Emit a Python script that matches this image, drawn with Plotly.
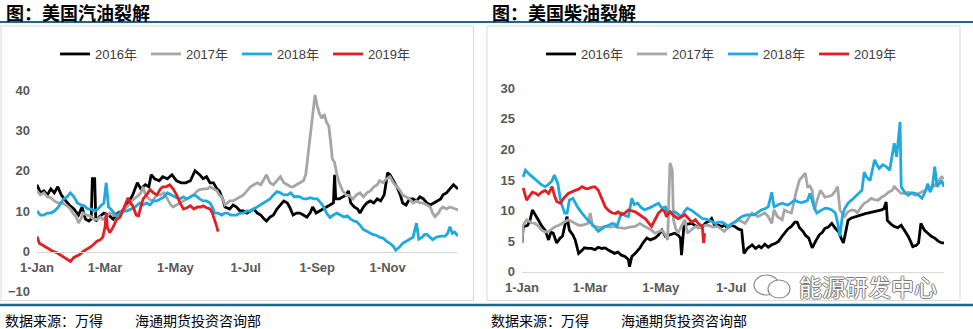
import pandas as pd
import plotly.graph_objects as go

W, H = 973, 329
BASE = pd.Timestamp("2017-01-01")   # common calendar axis for every year

YEARS = ["2016年", "2017年", "2018年", "2019年"]
COLORS = ["#000000", "#A6A6A6", "#1EAADC", "#E31E24"]

TICK_DAYS = [0, 59, 120, 181, 243, 304]
TICK_LABELS = ["1-Jan", "1-Mar", "1-May", "1-Jul", "1-Sep", "1-Nov"]
DSL_TICK_COUNT = 4          # later month labels sit under the account mark

GAS_TICKS = [-10, 0, 10, 20, 30, 40]
DSL_TICKS = [0, 5, 10, 15, 20, 25, 30]

# US gasoline crack spread, (day of year, USD/bbl)
GAS_2016 = [(0,16.5),(3,14.5),(6,15),(9,14),(12,15.5),(15,14.5),(18,16),(21,14),(25,12.5),(28,11.5),
            (32,10.5),(36,9),(39,11),(42,8),(45,7.5),(47,8),(48,18),(50,18),(51,7.5),(54,8.5),(58,9.5),
            (62,9),(66,8),(70,9.5),(74,10),(77,11),(80,12.5),(83,14),(87,17),(90,15.5),(94,16.5),(97,16),
            (99,19),(102,18),(106,17.5),(109,18.5),(113,18),(117,19),(121,17.5),(125,17),(129,17),(133,17.5),
            (137,20),(141,19),(144,18),(147,18.5),(150,17),(153,17),(156,15.5),(158,15),(161,13),(163,11),
            (167,10.5),(170,11.5),(173,11),(176,10),(179,10),(182,9.5),(185,10),(188,10.5),(191,9.5),(194,9),
            (197,8),(199,7.5),(202,8.5),(205,9),(208,10.5),(211,11.5),(214,12.5),(217,12),(219,11),(222,9),
            (225,9.5),(228,9.5),(231,9),(234,8.5),(237,9.6),(239,11),(242,9.5),(245,10),(248,10.5),(251,11),
            (254,11.5),(257,12),(258,19),(259,13),(262,13),(265,13.5),(268,14),(270,15),(272,12),(275,11),
            (278,10.5),(280,9.5),(283,11),(286,12),(289,12.5),(292,12),(295,13),(298,12.5),(301,14),(304,19.5),
            (306,19),(309,17.5),(312,16),(315,14),(317,12),(320,11.5),(323,13),(326,13),(329,12.5),(332,13.5),
            (335,13),(338,12),(341,11.5),(344,12),(347,12.5),(350,13),(352,14),(355,14.5),(358,15.5),(361,16.5),
            (363,16),(365,15.5)]
GAS_2017 = [(0,15),(3,14),(6,14.5),(9,13.5),(12,13.3),(15,12.5),(18,12),(22,12),(26,11.3),(29,10.5),
            (31,9.5),(34,8.5),(36,7),(38,8),(40,9.5),(43,9),(46,8.8),(49,8),(52,7.9),(55,8.5),(57,7.9),
            (60,8.5),(63,9.5),(66,9),(69,8.8),(72,9.5),(75,10.5),(78,11),(81,12),(84,13),(87,13.6),(90,14.5),
            (92,16),(94,14),(97,13),(100,12.5),(104,14),(107,14),(110,14.5),(113,13),(116,11.5),(118,11),
            (121,11.5),(124,12),(127,12.5),(130,13),(133,13.6),(136,14),(139,15),(141,15.3),(145,15.5),
            (148,15.5),(150,16),(153,15.5),(156,15),(158,14),(160,13.6),(163,11.5),(165,12),(167,12.5),
            (170,12.5),(173,13),(176,13.6),(179,14),(182,15),(185,16),(188,16.5),(191,17),(194,16.5),(197,18),
            (199,19),(202,17),(205,16.5),(208,17.5),(211,18.5),(214,17),(217,16.5),(220,16),(222,16),
            (225,16.5),(228,17),(231,17.5),(233,19),(235,24),(237,29),(239,35),(241,38.8),(243,36),(245,34),
            (247,33),(249,34),(251,32),(253,31),(255,26),(256,23),(258,22),(260,19),(262,17),(265,15),(268,14),
            (271,13.8),(274,13),(277,14),(280,14.5),(283,13.5),(286,14.5),(289,15),(292,16),(295,16.5),
            (297,17.5),(300,17),(303,18),(306,18.5),(309,17),(312,16),(315,15),(317,14),(320,13.5),(323,13),
            (326,12),(329,12.5),(332,12),(335,12),(338,11.5),(341,11),(343,9.5),(345,8.6),(348,9.5),(350,10.5),
            (352,11),(355,10.5),(358,11),(361,10.8),(363,10.5),(365,10.3)]
GAS_2018 = [(0,10),(3,9),(6,9),(9,9.5),(12,9.5),(15,10),(18,10.8),(21,12),(23,13),(26,13.5),(29,14.5),
            (32,13.5),(35,12),(38,11.5),(41,11.3),(44,10.5),(47,10.5),(50,10),(53,10.5),(56,11.5),(58,12),
            (60,17),(62,11),(64,10.5),(67,9.5),(69,8.8),(72,9.5),(75,10),(78,10),(81,10.5),(85,11),(89,12),
            (92,11.5),(95,12),(98,11.5),(101,12.5),(104,12.5),(107,13),(110,13.5),(113,14.5),(116,14),
            (119,13.5),(121,13.3),(124,13),(127,13.5),(130,13),(133,13.6),(136,14),(139,13.5),(141,13),
            (144,12.5),(147,12.5),(150,12),(152,11),(154,9.5),(157,9.5),(160,9),(163,9.5),(165,9.5),(168,9),
            (171,9),(173,9),(176,9.5),(179,9.5),(182,10),(185,10),(188,10.5),(191,11),(193,11.3),(196,12),
            (199,12.5),(202,13),(205,14),(208,14.8),(211,14.5),(214,14),(217,14),(220,14.5),(223,13.5),
            (225,13.6),(228,13.5),(231,13),(234,13),(237,13.3),(240,13),(243,13),(246,12),(248,11.3),(251,9.5),
            (254,8.4),(257,9),(260,9.5),(263,9),(266,8.5),(269,8.8),(272,8),(275,7.5),(277,7.4),(280,6.5),
            (283,5.4),(286,5),(289,4.5),(291,4.2),(294,4),(297,3.5),(300,3.3),(303,2.5),(306,2),(309,1.2),
            (311,0.3),(314,1),(317,2),(320,2.5),(323,2.9),(326,3.5),(329,7),(331,3),(334,3.5),(336,4.2),
            (338,4.2),(341,3.5),(343,2.9),(346,3.5),(350,3.8),(354,3.8),(356,4.5),(358,6.1),(360,4.5),
            (362,4.8),(365,3.8)]
GAS_2019 = [(0,3.7),(2,2),(5,1.5),(8,1),(11,0.4),(14,0),(17,-0.3),(20,-0.8),(23,-1.3),(26,-1.8),(29,-2.5),
            (32,-1.5),(35,-1),(37,-0.8),(40,0),(43,0.4),(46,1),(49,1.7),(52,2.5),(55,2.9),(57,3.5),(59,6),
            (60,9.5),(61,6),(63,4.6),(66,6),(69,7.9),(72,8.5),(75,10.4),(77,12),(79,13.3),(81,12),(83,11.3),
            (86,9),(88,8.8),(90,11),(92,13),(95,14),(98,15.3),(101,14.5),(104,14),(107,15.5),(109,16),(112,16),
            (115,16.5),(118,15.5),(121,14),(124,12),(127,10.5),(130,10.8),(133,11.3),(136,10.5),(139,11),
            (142,11),(144,11.3),(147,10.8),(150,10.5),(152,9.5),(154,7.9),(156,6),(157,4.9)]

# US diesel crack spread, (day of year, USD/bbl)
DSL_2016 = [(0,4.7),(1,7.3),(5,7.6),(7,8.5),(9,10.1),(12,9),(14,8.5),(17,7.5),(20,6.8),(23,5.2),(25,6.5),
            (27,6.3),(30,4.7),(33,5.5),(35,5.8),(37,7.5),(39,9),(41,6.8),(44,6),(46,5.2),(49,3),(52,3.5),
            (54,3.9),(57,3.8),(60,3.8),(63,3.6),(66,4),(69,3.8),(72,3.9),(75,3.5),(78,3.2),(80,3),(83,3.2),
            (86,2.7),(89,2.5),(92,2),(93,0.8),(95,2.5),(98,3),(102,3.9),(105,4.8),(108,5.5),(111,5.2),(115,5.5),
            (118,6),(121,6.8),(124,5.8),(127,6),(130,6.2),(132,6.3),(135,6),(137,5.5),(138,2.7),(140,7.4),
            (143,7.8),(147,7.9),(150,7.5),(153,7.2),(156,7.4),(159,8),(162,8.3),(164,8.7),(167,7.4),(170,7.6),
            (173,7.4),(175,7.6),(178,7.2),(181,7.6),(184,7.4),(187,7),(190,6.8),(192,3),(195,3.8),(199,4.4),
            (202,3.8),(205,4.2),(207,3.9),(210,4.5),(213,4),(216,4.4),(219,4.6),(222,5),(225,5.8),(227,6.3),
            (230,7),(233,7.4),(236,8.1),(238,8.1),(240,7.2),(243,6.6),(245,6),(248,5.5),(251,3.9),(254,5),
            (257,6),(260,6.5),(262,7.1),(265,7.3),(268,7.9),(271,7.1),(274,6.5),(276,5.5),(278,4.7),(280,6.5),
            (282,8.4),(285,8.8),(288,9),(291,9.2),(294,9.3),(297,9.5),(299,9.6),(302,9.7),(305,9.9),(308,10),
            (311,10.1),(313,10.3),(315,11.4),(316,8.4),(319,7.8),(322,7.4),(325,7.2),(328,7.6),(331,6.8),
            (334,5.8),(336,5),(338,4.1),(341,4.3),(343,4.7),(345,7.9),(348,6.8),(351,6.3),(354,5.8),(357,5.5),
            (360,5),(363,4.7),(365,4.7)]
DSL_2017 = [(0,4.7),(1,7.6),(4,8.5),(8,8),(11,7.9),(14,7.5),(17,6.8),(20,6.5),(23,6.6),(26,7),(29,7.4),
            (32,7.6),(35,7.9),(38,8.2),(40,8.5),(43,8.2),(46,7.9),(49,7.6),(52,7.6),(55,7.8),(57,7.9),(59,9.6),
            (61,7.5),(63,7.4),(67,7.2),(72,7.4),(76,7.3),(80,7.4),(84,7.2),(89,7.1),(93,7.3),(98,7.4),(102,7.9),
            (105,7.5),(109,7.1),(112,6.8),(115,6.3),(118,6.5),(121,6.8),(124,6),(126,5.2),(127,12),(128,17.8),
            (130,16.6),(131,8.5),(133,7),(135,6.3),(138,7.5),(141,8.5),(143,6.3),(147,7),(150,7.4),(153,7.2),
            (156,7.4),(159,7.6),(161,7.6),(165,7.3),(169,7.4),(172,7),(175,6.6),(178,7.2),(182,7.9),(185,8.2),
            (187,8.5),(190,8.2),(193,7.9),(196,8.8),(199,9.6),(202,9.3),(204,9),(207,9.3),(210,9.6),(213,9),
            (216,7.9),(218,10.1),(221,9),(225,8.5),(227,10.1),(230,9.8),(233,9.6),(235,11.2),(237,13),(240,15),
            (242,15.5),(245,16.1),(247,13.9),(249,14),(251,13.3),(253,10.1),(255,11.5),(258,13.3),(260,12.8),
            (262,12.2),(265,12.3),(268,12.5),(271,13.2),(273,13.9),(275,10.1),(279,9),(282,9.8),(285,10.1),
            (288,10),(290,9.6),(293,10.5),(296,11.2),(299,11.5),(302,12),(305,11.8),(308,11.7),(311,12.2),
            (314,12.5),(317,13),(320,13.3),(322,13.9),(325,13.3),(328,12.8),(331,12.8),(334,13),(337,12.8),
            (340,12.5),(343,12.8),(346,13),(349,13.3),(351,13.6),(354,13.9),(357,14.1),(360,14.8),(363,15.5),
            (365,15.2)]
DSL_2018 = [(1,15.5),(3,16.6),(6,16),(9,15.5),(12,15),(14,14.7),(17,14.2),(20,13.9),(23,14.3),(26,14.9),
            (28,15.8),(31,14.4),(33,12),(35,10.6),(37,9.6),(39,9.6),(41,11.7),(44,12),(46,11.2),(48,10.6),
            (51,9.8),(54,9),(57,8.4),(60,7.9),(63,7.2),(66,6.6),(69,7),(72,7.4),(75,7.6),(78,7.9),(80,7.8),
            (82,7.4),(84,8.5),(86,9.6),(89,9.2),(92,9),(95,12),(97,11),(100,11.2),(103,10.5),(106,10.1),
            (109,10.3),(112,10.6),(115,10.9),(118,11.2),(121,10.4),(124,10.6),(126,9.6),(129,9.7),(132,9.8),
            (135,9.4),(138,9),(141,10),(143,10.4),(147,10),(150,9.6),(153,9.2),(156,8.7),(159,8.6),(161,8.5),
            (164,8.2),(167,7.9),(170,8.1),(173,8.1),(176,7.8),(178,7.4),(181,7.8),(184,8.1),(187,8.6),(190,9),
            (193,9.2),(195,9.3),(198,9.3),(201,9.3),(204,9.7),(207,10.1),(210,10.3),(213,10.6),(216,13),
            (218,10.6),(222,11),(225,11.2),(228,11),(230,10.9),(233,11.3),(236,11.7),(239,11.4),(242,11.3),
            (245,11.5),(247,11.7),(249,12.8),(251,11.5),(253,10.4),(255,9.6),(258,9.9),(262,10.4),(265,10.3),
            (268,10.1),(271,9.6),(273,8),(275,5.8),(277,9),(279,10.3),(282,11.2),(285,11.7),(288,12.2),
            (291,12.8),(294,13.3),(296,16.3),(298,15.5),(301,14.9),(303,16.5),(305,18.3),(307,17.5),(309,16.9),
            (312,17.5),(315,17.2),(318,16.6),(320,19),(322,21),(324,18.8),(326,22),(327,24.5),(328,13.9),
            (331,13),(334,12.5),(337,12.9),(340,12.8),(343,12.5),(346,12),(349,13.2),(351,14.4),(353,13),
            (355,14),(357,17.2),(359,13.9),(361,14.5),(363,14.9),(365,13.9)]
DSL_2019 = [(1,13.7),(4,11.7),(7,12.5),(9,13),(12,12.8),(14,12.5),(17,13),(20,13.3),(23,12.8),(26,13.9),
            (28,12.5),(30,11.5),(33,11.2),(36,12),(40,12.8),(43,13.1),(46,13.3),(49,13.5),(52,13.9),(55,13.6),
            (57,13.6),(60,13.8),(63,13.9),(66,13.3),(67,12.8),(70,11.5),(72,10.6),(75,10),(78,9.6),(81,9.5),
            (83,9.8),(86,9.3),(89,9.6),(92,10.1),(95,9.9),(98,9.8),(101,9.4),(104,9),(107,8.6),(109,8.1),
            (112,7.4),(115,8.5),(118,9.6),(121,10.1),(123,10),(125,9),(128,9.8),(131,9.2),(135,8.7),(138,9),
            (141,9.3),(144,8.7),(147,8.1),(150,8.5),(153,7.8),(156,7.4),(157,4.7),(158,6.3)]

GASOLINE = [GAS_2016, GAS_2017, GAS_2018, GAS_2019]
DIESEL = [DSL_2016, DSL_2017, DSL_2018, DSL_2019]


def px(v):
    return v / W


def py(v):
    return 1 - v / H


def to_xy(pairs):
    days, vals = zip(*pairs)
    return [BASE + pd.Timedelta(days=d) for d in days], list(vals)


fig = go.Figure()
for name, color, gas, dsl in zip(YEARS, COLORS, GASOLINE, DIESEL):
    x, y = to_xy(gas)
    fig.add_trace(go.Scatter(x=x, y=y, name=name, mode="lines", xaxis="x", yaxis="y",
                             line=dict(color=color, width=2.8), legend="legend"))
    x, y = to_xy(dsl)
    fig.add_trace(go.Scatter(x=x, y=y, name=name, mode="lines", xaxis="x2", yaxis="y2",
                             line=dict(color=color, width=2.8), legend="legend2"))

TICK_FONT = dict(family="Arial", size=13, color="#595959", weight="bold")
tick_dates = [BASE + pd.Timedelta(days=d) for d in TICK_DAYS]
x_range = [BASE, BASE + pd.Timedelta(days=365)]

common_x = dict(type="date", range=x_range, showgrid=False, zeroline=False, showline=True,
                linecolor="#D9D9D9", linewidth=1, ticks="", tickfont=TICK_FONT,
                ticklabelstandoff=4, fixedrange=True)
common_y = dict(showgrid=False, zeroline=False, showline=False, ticks="",
                tickfont=TICK_FONT, ticklabelstandoff=6)
LEGEND_COMMON = dict(orientation="h", xanchor="left", yanchor="middle",
                     entrywidth=46, entrywidthmode="pixels", bgcolor="rgba(0,0,0,0)",
                     font=dict(family="Arial, Noto Sans CJK SC", size=13, color="#404040"))

fig.update_layout(
    width=W, height=H,
    margin=dict(l=0, r=0, t=0, b=0, autoexpand=False),
    paper_bgcolor="white", plot_bgcolor="white",
    xaxis=dict(domain=[px(37), px(458)], anchor="free", position=py(251.7),
               tickvals=tick_dates, ticktext=TICK_LABELS, **common_x),
    yaxis=dict(domain=[py(291.7), py(90)], range=[-10, 40], tickvals=GAS_TICKS, anchor="x", **common_y),
    xaxis2=dict(domain=[px(522), px(944)], anchor="y2",
                tickvals=tick_dates[:DSL_TICK_COUNT], ticktext=TICK_LABELS[:DSL_TICK_COUNT], **common_x),
    yaxis2=dict(domain=[py(271.7), py(88.3)], range=[0, 30], tickvals=DSL_TICKS, anchor="x2", **common_y),
    legend=dict(x=px(55), y=py(54), **LEGEND_COMMON),
    legend2=dict(x=px(541), y=py(54), **LEGEND_COMMON),
    showlegend=True,
)

RULE = "#1F6689"
PAPER = dict(xref="paper", yref="paper")
shapes = [
    # panel frames
    dict(type="rect", x0=px(1), x1=px(473.5), y0=py(300.5), y1=py(26),
         line=dict(color="#D9D9D9", width=1), **PAPER),
    dict(type="rect", x0=px(487), x1=px(960), y0=py(300.5), y1=py(26),
         line=dict(color="#D9D9D9", width=1), **PAPER),
    # rules under headings and above sources
    dict(type="line", x0=0, x1=1, y0=py(22), y1=py(22), line=dict(color=RULE, width=2), **PAPER),
    dict(type="line", x0=0, x1=1, y0=py(305), y1=py(305), line=dict(color=RULE, width=2.5), **PAPER),
    # account mark: two speech bubbles
    dict(type="circle", x0=px(754), x1=px(779), y0=py(295), y1=py(275), layer="above",
         fillcolor="white", line=dict(color="#8C8C8C", width=1.2), **PAPER),
    dict(type="circle", x0=px(768), x1=px(790), y0=py(298), y1=py(280), layer="above",
         fillcolor="white", line=dict(color="#8C8C8C", width=1.2), **PAPER),
]
fig.update_layout(shapes=shapes)

HEAD_FONT = dict(family="Noto Sans CJK SC", size=18, color="#000000", weight="bold")
SRC_FONT = dict(family="Noto Sans CJK SC", size=14, color="#000000")
annotations = [
    dict(text="图：美国汽油裂解", x=px(4), y=py(12), xanchor="left", yanchor="middle", font=HEAD_FONT),
    dict(text="图：美国柴油裂解", x=px(490), y=py(12), xanchor="left", yanchor="middle", font=HEAD_FONT),
    dict(text="数据来源：万得", x=px(3), y=py(320), xanchor="left", yanchor="middle", font=SRC_FONT),
    dict(text="海通期货投资咨询部", x=px(133), y=py(320), xanchor="left", yanchor="middle", font=SRC_FONT),
    dict(text="数据来源：万得", x=px(489), y=py(320), xanchor="left", yanchor="middle", font=SRC_FONT),
    dict(text="海通期货投资咨询部", x=px(619), y=py(320), xanchor="left", yanchor="middle", font=SRC_FONT),
    dict(text="能源研发中心", x=px(797), y=py(286), xanchor="left", yanchor="middle",
         font=dict(family="Noto Sans CJK SC", size=23, color="#FFFFFF",
                   shadow="-1px 0 #7A7A7A, 1px 0 #7A7A7A, 0 -1px #7A7A7A, 0 1px #7A7A7A")),
]
for a in annotations:
    a.update(xref="paper", yref="paper", showarrow=False)
fig.update_layout(annotations=annotations)

fig.write_html("out.html")
